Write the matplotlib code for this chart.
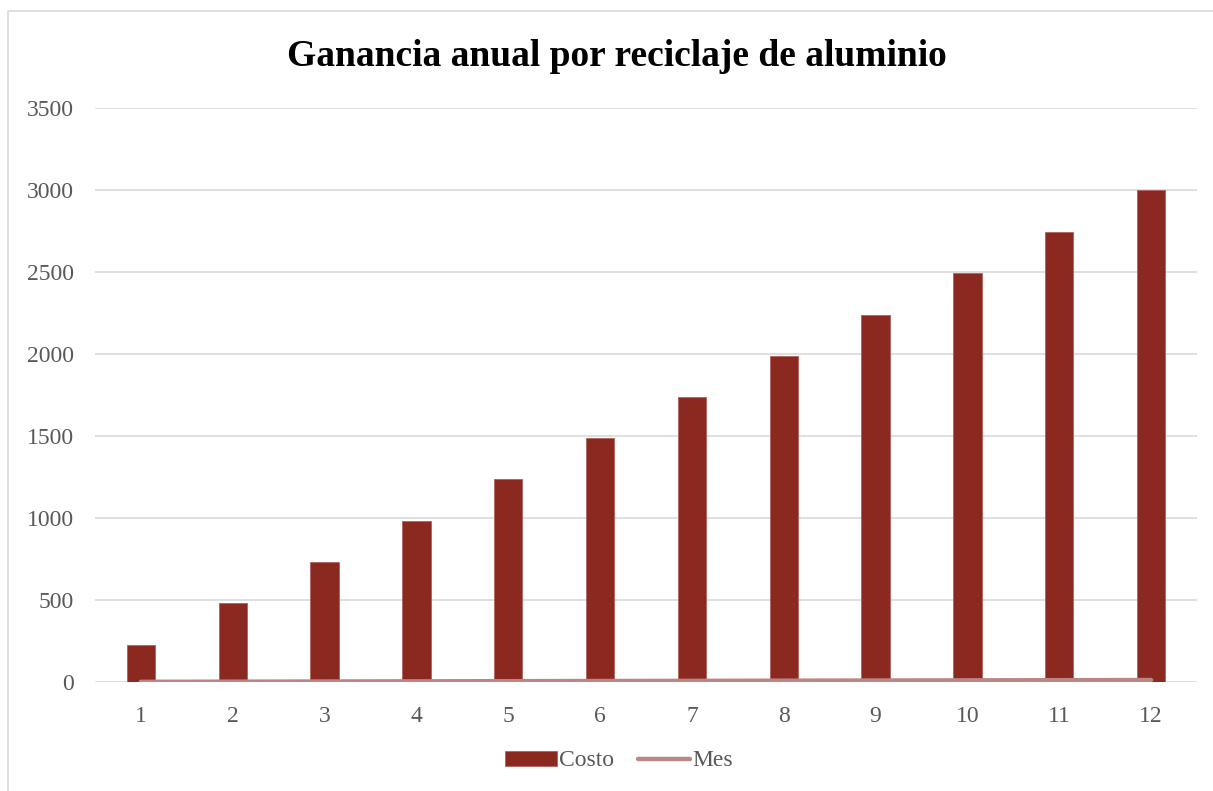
import matplotlib.pyplot as plt
from matplotlib.patches import Rectangle

# data
meses = [1, 2, 3, 4, 5, 6, 7, 8, 9, 10, 11, 12]
costo = [225, 480, 730, 980, 1235, 1490, 1740, 1990, 2240, 2495, 2745, 3000]
mes = [1, 2, 3, 4, 5, 6, 7, 8, 9, 10, 11, 12]

BAR_COLOR = '#8B2820'
LINE_COLOR = '#BA8784'
GRID_COLOR = '#D9D9D9'
TEXT_COLOR = '#595959'

plt.rcParams['font.family'] = ['Liberation Serif', 'DejaVu Serif']

fig = plt.figure(figsize=(12.13, 7.91), dpi=100)
ax = fig.add_axes([95 / 1213, 1 - 682 / 791, (1197 - 95) / 1213, (682 - 108) / 791])

# outer chart frame (runs off the right and bottom edges)
fig.patches.append(Rectangle((8 / 1213, -0.5), 1.5, 1.5 - 11 / 791, transform=fig.transFigure,
                             fill=False, edgecolor='#D9D9D9', linewidth=1.2))

bars = ax.bar(meses, costo, width=0.31, color=BAR_COLOR, edgecolor='#B0615C', linewidth=0.6,
              label='Costo', zorder=2)
line, = ax.plot(meses, mes, color=LINE_COLOR, linewidth=3.2, solid_capstyle='round',
                label='Mes', zorder=3)

ax.set_xlim(0.5, 12.5)
ax.set_ylim(0, 3500)
ax.set_xticks(meses)
ax.set_yticks(range(0, 3501, 500))
ax.grid(axis='y', color=GRID_COLOR, linewidth=1.2, zorder=0)
for s in ax.spines.values():
    s.set_visible(False)
ax.tick_params(length=0, labelsize=17, labelcolor=TEXT_COLOR)
ax.tick_params(axis='x', pad=17)
ax.tick_params(axis='y', pad=15)

fig.text(617 / 1213, 1 - 56 / 791, 'Ganancia anual por reciclaje de aluminio',
         ha='center', va='center', fontsize=27, fontweight='bold', color='black')

leg = fig.legend([bars, line], ['Costo', 'Mes'], loc='center',
                 bbox_to_anchor=(619 / 1213, 1 - 761 / 791), ncol=2,
                 frameon=False, fontsize=17, handlelength=2.2, handleheight=0.6,
                 handletextpad=0.1, columnspacing=1.0)
for t in leg.get_texts():
    t.set_color(TEXT_COLOR)

fig.savefig('out.png', dpi=100)
